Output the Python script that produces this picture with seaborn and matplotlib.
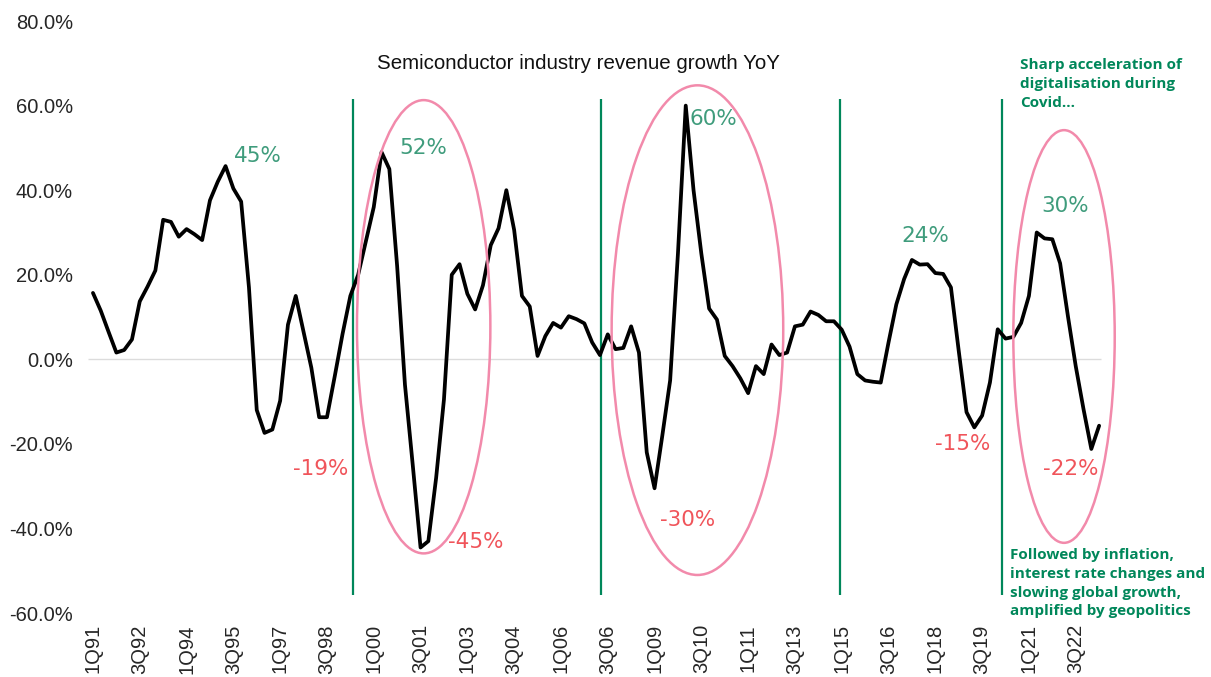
import numpy as np
import pandas as pd
import matplotlib.pyplot as plt
import seaborn as sns
from matplotlib.patches import Ellipse

# Semiconductor industry revenue growth YoY (%), quarterly from 1Q91
growth = [
    15.7, 11.5, 6.5, 1.6, 2.2, 4.7, 13.7, 17.2, 21.0, 33.0,
    32.5, 29.0, 30.8, 29.6, 28.2, 37.6, 42.0, 45.7, 40.4, 37.3,
    17.0, -12.0, -17.4, -16.6, -9.8, 8.2, 15.0, 6.5, -2.0, -13.7,
    -13.7, -4.0, 6.0, 15.0, 20.0, 28.0, 36.0, 49.0, 45.0, 22.0,
    -6.0, -25.0, -44.5, -43.0, -28.0, -9.5, 20.0, 22.5, 15.5, 11.8,
    17.5, 27.0, 31.0, 40.0, 30.6, 15.0, 12.5, 0.8, 5.5, 8.6,
    7.5, 10.2, 9.5, 8.5, 4.0, 1.0, 5.9, 2.4, 2.7, 7.8,
    1.6, -22.0, -30.5, -18.0, -5.0, 25.0, 60.0, 40.0, 25.0, 12.0,
    9.4, 0.8, -1.6, -4.5, -8.0, -1.6, -3.5, 3.5, 1.0, 1.6,
    7.8, 8.2, 11.3, 10.5, 9.0, 9.0, 7.0, 3.0, -3.5, -5.0,
    -5.3, -5.5, 4.0, 13.0, 19.0, 23.5, 22.4, 22.5, 20.4, 20.2,
    17.0, 2.0, -12.5, -16.1, -13.3, -5.5, 7.1, 4.9, 5.3, 8.6,
    15.0, 30.0, 28.6, 28.4, 22.7, 10.2, -1.6, -11.8, -21.2, -15.7,
]

tick_labels = [
    "1Q91", "3Q92", "1Q94", "3Q95", "1Q97", "3Q98", "1Q00", "3Q01",
    "1Q03", "3Q04", "1Q06", "3Q06", "1Q09", "3Q10", "1Q11", "3Q13",
    "1Q15", "3Q16", "1Q18", "3Q19", "1Q21", "3Q22",
]

peak_labels = ["45%", "52%", "60%", "24%", "30%"]
trough_labels = ["-19%", "-45%", "-30%", "-15%", "-22%"]

df = pd.DataFrame({"q": np.arange(len(growth)), "growth": growth})

sns.set_style("white")
plt.rcParams["font.family"] = ["Liberation Sans", "DejaVu Sans"]

GREEN = "#00875a"
PEAK = "#3f9c7c"
TROUGH = "#f0545a"
PINK = "#f28aab"

fig = plt.figure(figsize=(12.11, 6.77), dpi=100)
ax = fig.add_axes([0.0729, 0.0945, 0.8476, 0.8744])

ax.hlines(0, -0.6, 129.3, color="#dcdcdc", lw=1, zorder=0)
sns.lineplot(data=df, x="q", y="growth", color="black", lw=2.7, ax=ax, zorder=3)

# cycle markers
for x in [33.4, 65.1, 95.8, 116.5]:
    ax.vlines(x, -55.8, 61.6, color=GREEN, lw=1.6, zorder=2)

for cx, cy, w, h in [(42.4, 7.7, 17.1, 107.2), (77.5, 6.9, 22.0, 115.8), (124.5, 5.4, 13.0, 97.6)]:
    ax.add_patch(Ellipse((cx, cy), w, h, fill=False, ec=PINK, lw=1.8, zorder=4, clip_on=False))

# value callouts
for txt, x, y in zip(peak_labels, [21.2, 42.3, 79.5, 106.7, 124.7], [48.2, 49.9, 56.8, 29.2, 36.3]):
    ax.text(x, y, txt, color=PEAK, fontsize=15.5, ha="center", va="center", family="DejaVu Sans")
for txt, x, y in zip(trough_labels, [29.2, 49.1, 76.2, 111.5, 125.3], [-26, -43.3, -38, -20, -26]):
    ax.text(x, y, txt, color=TROUGH, fontsize=15.5, ha="center", va="center", family="DejaVu Sans")

ax.text(62.2, 70, "Semiconductor industry revenue growth YoY", fontsize=14.8,
        ha="center", va="center", color="#111111")

ax.text(118.9, 71.2, "Sharp acceleration of\ndigitalisation during\nCovid...", color=GREEN,
        fontsize=11, fontweight="bold", family="Open Sans", ha="left", va="top", linespacing=1.42)
ax.text(117.6, -44.7, "Followed by inflation,\ninterest rate changes and\nslowing global growth,\namplified by geopolitics",
        color=GREEN, fontsize=11, fontweight="bold", family="Open Sans", ha="left", va="top", linespacing=1.42)

ax.set_xlim(-0.6, 131)
ax.set_ylim(-60, 80)
ax.set_xticks(df["q"][::6][:len(tick_labels)])
ax.set_xticklabels(tick_labels, rotation=90)
yt = np.arange(-60, 81, 20)
ax.set_yticks(yt)
ax.set_yticklabels([f"{v:.1f}%" for v in yt])
ax.tick_params(axis="both", length=0, labelsize=14.5)
ax.tick_params(axis="y", pad=11)
ax.tick_params(axis="x", pad=8)
ax.set_xlabel("")
ax.set_ylabel("")
sns.despine(ax=ax, left=True, bottom=True)

fig.savefig("out.png", dpi=100)
